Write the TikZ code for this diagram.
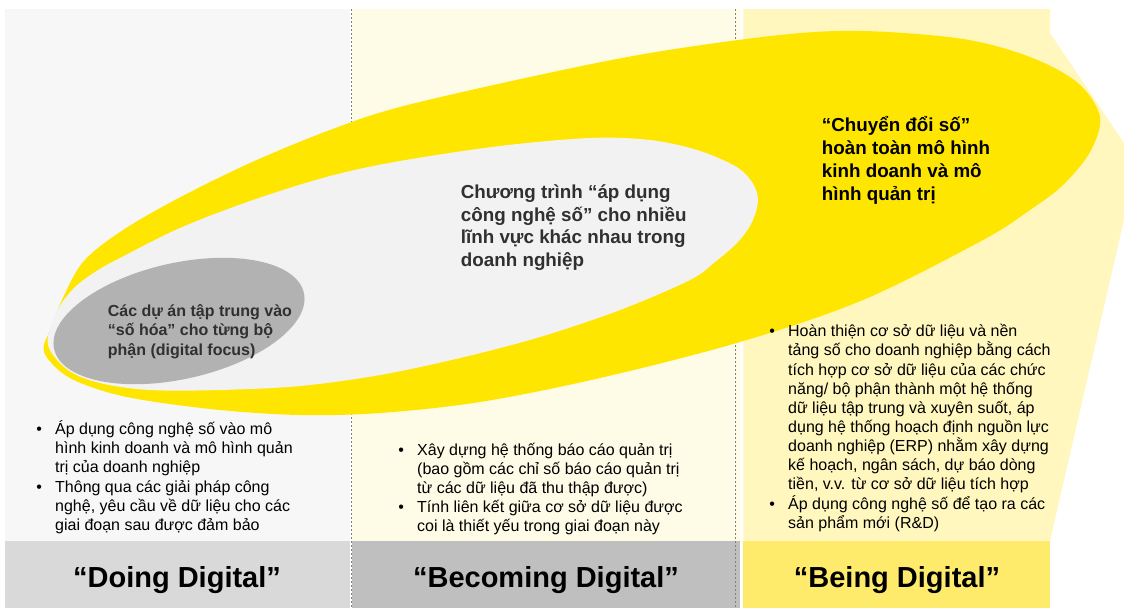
\documentclass[tikz,border=0pt]{standalone}
\usepackage{fontspec}
\setmainfont{Liberation Sans}
\definecolor{colA}{HTML}{F7F7F7}
\definecolor{colB}{HTML}{FEFBE6}
\definecolor{colC}{HTML}{FFF7BD}
\definecolor{bandA}{HTML}{D9D9D9}
\definecolor{bandB}{HTML}{BFBFBF}
\definecolor{bandC}{HTML}{FFEB6B}
\definecolor{ellY}{HTML}{FFE600}
\definecolor{ellL}{HTML}{F2F2F2}
\definecolor{ellD}{HTML}{B2B2B2}
\definecolor{txtD}{HTML}{303030}
\newcommand{\mybullet}{\leavevmode\llap{\makebox[18.8pt][l]{•}}}
\begin{document}
\begin{tikzpicture}[x=1pt,y=-1pt,
  divider/.style={draw=black!50, line width=0.8pt, dash pattern=on 2pt off 2pt},
  title/.style={font=\fontsize{29}{34}\selectfont\bfseries, anchor=base, inner sep=0pt},
  txt/.style={anchor=base west, inner sep=0pt},
]
\useasboundingbox (0,0) rectangle (1124,608);
% column backgrounds
\fill[colA] (5,9) rectangle (349.5,541);
\fill[colB] (352,9) rectangle (740,541);
\fill[colC] (743.3,9) -- (1050,9) -- (1050,33) -- (1124,143) -- (1124,220) -- (1050,541) -- (743.3,541) -- cycle;
% bottom bands
\fill[bandA] (5,541) rectangle (349.5,608);
\fill[bandB] (352,541) rectangle (740,608);
\fill[bandC] (743.3,541) rectangle (1050,608);
% dividers
\coordinate (d1t) at (351,9);
\coordinate (d1b) at (351,608);
\coordinate (d2t) at (735.7,9);
\coordinate (d2b) at (735.7,608);
\draw[divider] (d1t) -- (d1b);
\draw[divider] (d2t) -- (d2b);
% big yellow shape
\fill[ellY] plot[smooth cycle, tension=0.55] coordinates {
 (44,352) (50,330) (62,300) (83,262) (120,232) (175,200) (250,163) (330,130)
 (400,107) (530,77) (650,53) (780,35) (863,31) (963,39) (1030,57) (1078,83)
 (1100,117) (1090,152) (1063,185) (1030,210) (983,240) (863,300) (740,342)
 (600,378) (480,402) (380,413) (300,415) (220,410) (143,400) (100,390) (65,375)};
% light grey shape
\fill[ellL] plot[smooth cycle, tension=0.55] coordinates {
 (48,345) (55,315) (72,290) (95,272) (120,258) (180,228) (253,200) (330,176)
 (400,161) (500,146) (590,138) (650,140) (697,150) (735,166) (752,182) (758,200)
 (752,222) (738,242) (715,262) (690,280) (620,310) (540,337) (460,358) (380,375)
 (300,386) (220,390) (150,390) (100,383) (68,370)};
% dark grey ellipse
\fill[ellD, rotate around={12.7:(179,321)}] (179,321) ellipse [x radius=128pt, y radius=58pt];
% ellipse texts
\node[txt] (yt) at (821.7,131.7) {\parbox[t]{220pt}{\fontsize{18.8}{22.8}\selectfont\bfseries\raggedright
“Chuyển đổi số”\\
hoàn toàn mô hình\\
kinh doanh và mô\\
hình quản trị}};
\node[txt, text=txtD] (mt) at (460.7,198.3) {\parbox[t]{300pt}{\fontsize{18.8}{22.8}\selectfont\bfseries\raggedright
Chương trình “áp dụng\\
công nghệ số” cho nhiều\\
lĩnh vực khác nhau trong\\
doanh nghiệp}};
\node[txt, text=txtD] (st) at (107.7,316.7) {\parbox[t]{220pt}{\fontsize{16}{19.2}\selectfont\bfseries\raggedright
Các dự án tập trung vào\\
“số hóa” cho từng bộ\\
phận (digital focus)}};
% bullet texts
\node[txt] (b1) at (55,434.5) {\parbox[t]{290pt}{\fontsize{16}{19.2}\selectfont\raggedright
\mybullet Áp dụng công nghệ số vào mô\\
hình kinh doanh và mô hình quản\\
trị của doanh nghiệp\\
\mybullet Thông qua các giải pháp công\\
nghệ, yêu cầu về dữ liệu cho các\\
giai đoạn sau được đảm bảo}};
\node[txt] (b2) at (417,455) {\parbox[t]{310pt}{\fontsize{16}{19.2}\selectfont\raggedright
\mybullet Xây dựng hệ thống báo cáo quản trị\\
(bao gồm các chỉ số báo cáo quản trị\\
từ các dữ liệu đã thu thập được)\\
\mybullet Tính liên kết giữa cơ sở dữ liệu được\\
coi là thiết yếu trong giai đoạn này}};
\node[txt] (b3) at (788,336.7) {\parbox[t]{300pt}{\fontsize{16}{19.16}\selectfont\raggedright
\mybullet Hoàn thiện cơ sở dữ liệu và nền\\
tảng số cho doanh nghiệp bằng cách\\
tích hợp cơ sở dữ liệu của các chức\\
năng/ bộ phận thành một hệ thống\\
dữ liệu tập trung và xuyên suốt, áp\\
dụng hệ thống hoạch định nguồn lực\\
doanh nghiệp (ERP) nhằm xây dựng\\
kế hoạch, ngân sách, dự báo dòng\\
tiền, v.v. từ cơ sở dữ liệu tích hợp\\
\mybullet Áp dụng công nghệ số để tạo ra các\\
sản phẩm mới (R\&D)}};
% titles
\node[title] (t1) at (177,587) {“Doing Digital”};
\node[title] (t2) at (546,587) {“Becoming Digital”};
\node[title] (t3) at (897,587) {“Being Digital”};
\end{tikzpicture}
\end{document}
